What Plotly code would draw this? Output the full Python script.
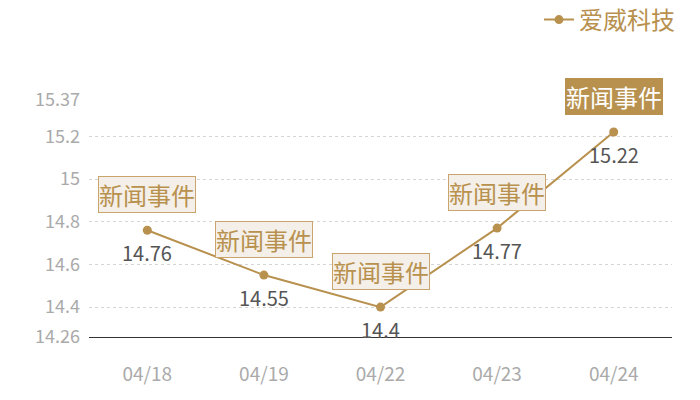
import plotly.graph_objects as go

dates = ["04/18", "04/19", "04/22", "04/23", "04/24"]
prices = [14.76, 14.55, 14.4, 14.77, 15.22]
event_text = ["新闻事件", "新闻事件", "新闻事件", "新闻事件", "新闻事件"]
highlight = [False, False, False, False, True]
y_ticks = [14.26, 14.4, 14.6, 14.8, 15, 15.2, 15.37]

gold = "#b8914f"
font_cn = "Noto Sans CJK SC, Microsoft YaHei, sans-serif"

fig = go.Figure()
fig.add_trace(go.Scatter(
    x=dates,
    y=prices,
    mode="lines+markers",
    name="爱威科技",
    line=dict(color=gold, width=2),
    marker=dict(color=gold, size=9),
))

# value labels under the points
for d, p in zip(dates, prices):
    fig.add_annotation(
        x=d, y=p, xref="x", yref="y", text=str(p), showarrow=False,
        yshift=-22, font=dict(size=20, color="#555555", family=font_cn),
    )

# event boxes above the points
for d, p, t, h in zip(dates, prices, event_text, highlight):
    fig.add_annotation(
        x=d, y=p, xref="x", yref="y",
        text=t, showarrow=False, yshift=36,
        font=dict(size=24, color="#ffffff" if h else gold, family=font_cn),
        bgcolor=gold if h else "#f4efe8",
        bordercolor=gold if h else "#c9a46c",
        borderwidth=1, borderpad=0,
    )

fig.update_layout(
    width=700, height=400,
    margin=dict(l=81, r=36, t=92, b=71, autoexpand=False),
    paper_bgcolor="white", plot_bgcolor="white",
    showlegend=True,
    legend=dict(
        x=0.96, y=0.97, xref="container", yref="container",
        xanchor="right", yanchor="middle",
        font=dict(size=24, color=gold, family=font_cn),
        itemwidth=30,
    ),
    font=dict(family=font_cn),
)
fig.update_xaxes(
    type="category", range=[-0.5, 4.5], automargin=False,
    showgrid=False, showline=True, linecolor="#333333", linewidth=1,
    ticks="", tickfont=dict(size=19, color="#aaaaaa"),
    ticklabelstandoff=20,
)
fig.update_yaxes(
    range=[14.26, 15.37], tickvals=y_ticks, ticktext=[str(v) for v in y_ticks],
    automargin=False,
    showgrid=True, gridcolor="#d5d5d5", griddash="dot", gridwidth=1,
    zeroline=False, showline=False,
    tickfont=dict(size=18, color="#aaaaaa"), ticklabelstandoff=8,
)

fig.write_html("out.html")
